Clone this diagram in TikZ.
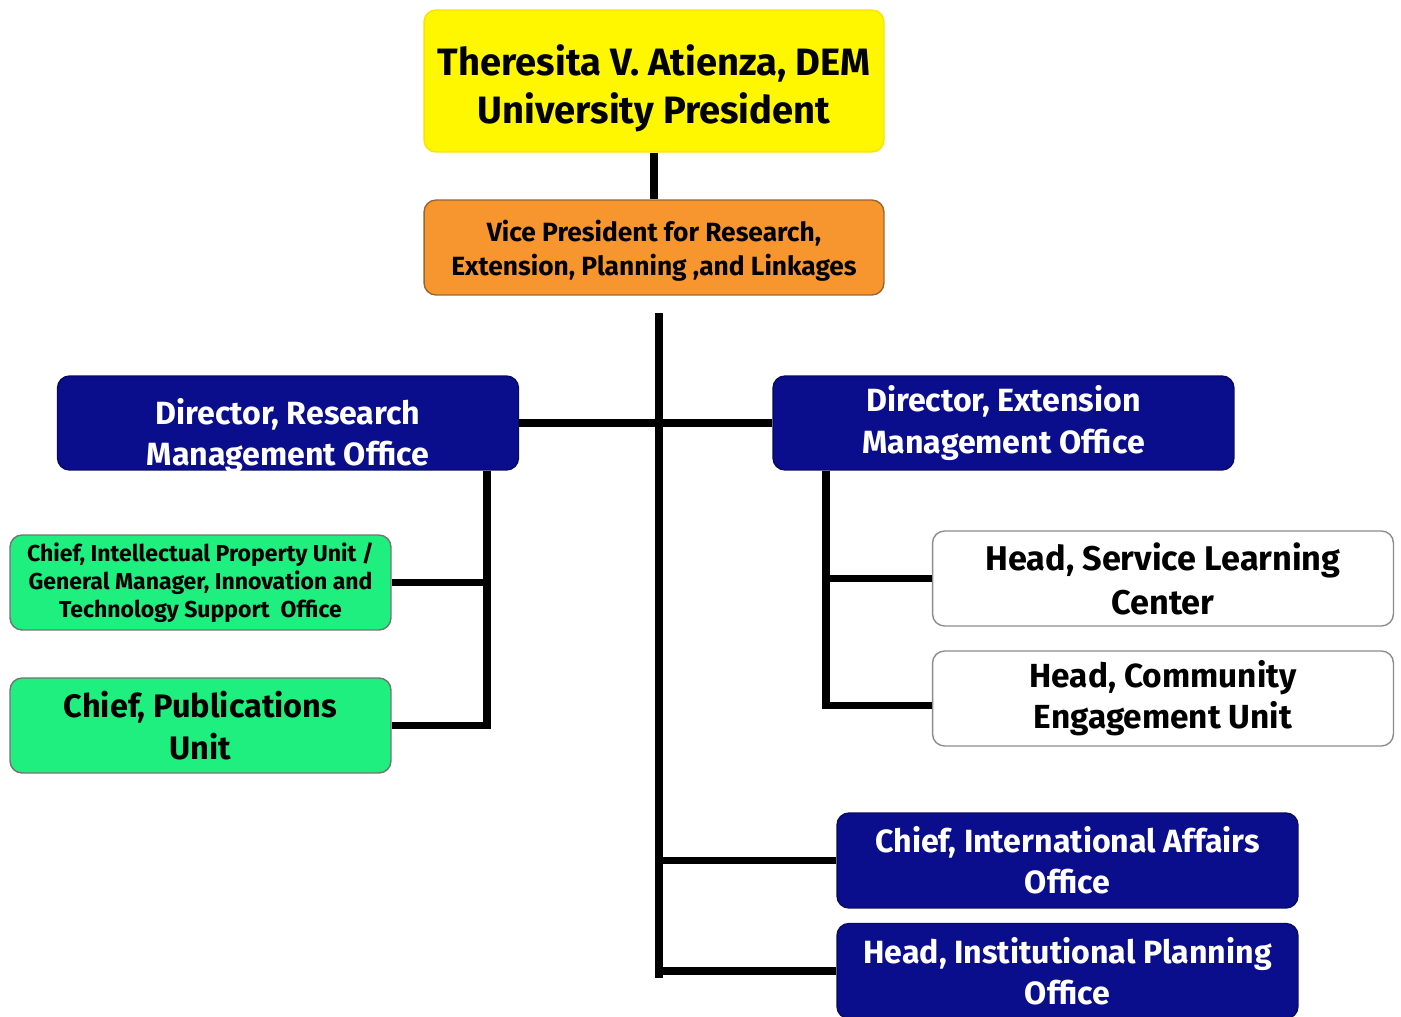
\documentclass[tikz,border=0pt]{standalone}
\usepackage{fontspec}
\setmainfont{Fira Sans}
\usetikzlibrary{calc}
\definecolor{presyellow}{HTML}{FFF700}
\definecolor{vporange}{HTML}{F7962E}
\definecolor{officeblue}{HTML}{0B0E8C}
\definecolor{unitgreen}{HTML}{1FEF7E}
\tikzset{
  box/.style={rectangle, rounded corners=0.24cm, align=center, inner sep=0pt, font=\bfseries},
  bigbox/.style={box, minimum width=9.22cm, minimum height=1.9cm},
  smallbox/.style={box, minimum width=7.62cm, minimum height=1.9cm, fill=unitgreen, draw=black!55, line width=0.8pt},
  bluebox/.style={bigbox, fill=officeblue, draw=officeblue!70!black, text=white, line width=0.8pt},
  whitebox/.style={bigbox, fill=white, draw=black!45, line width=0.8pt},
  link/.style={line width=4.5pt, black},
  midsize/.style={font=\bfseries\fontsize{18.3}{23.5}\selectfont},
  boxtext/.style={align=center, inner sep=0pt, yshift=#1}
}
\begin{document}
\begin{tikzpicture}[x=0.02cm, y=-0.02cm]
\clip (0,0) rectangle (1401,1017);
\fill[white] (0,0) rectangle (1401,1017);
% top of the chart
\node[box, minimum width=9.2cm, minimum height=2.84cm, fill=presyellow, draw=presyellow!80!orange, line width=0.8pt,
  label={[boxtext=-0.15cm, font=\bfseries\fontsize{21.7}{27.5}\selectfont]center:{Theresita V. Atienza, DEM\\University President}}] (pres) at (654,81) {};
\node[box, minimum width=9.2cm, minimum height=1.9cm, fill=vporange, draw=brown!80!black, line width=0.8pt,
  label={[boxtext=-0.06cm, font=\bfseries\fontsize{15}{19.5}\selectfont]center:{Vice President for Research,\\Extension, Planning ,and Linkages}}] (vp) at (654,247.5) {};
% directors
\node[bluebox, minimum height=1.88cm,
  label={[boxtext=-0.25cm, midsize, text=white]center:{Director, Research\\Management Office}}] (drmo) at (288,423) {};
\node[bluebox, minimum height=1.88cm, midsize] (demo) at (1003.5,423) {Director, Extension\\Management Office};
% research units
\node[smallbox, font=\bfseries\fontsize{13.1}{16}\selectfont] (ipu) at (200.5,582.5) {Chief, Intellectual Property Unit /\\General Manager, Innovation and\\Technology Support\ \ Office};
\node[smallbox, font=\bfseries\fontsize{18.5}{24}\selectfont] (pub) at (200.5,725.5) {Chief, Publications\\Unit};
% extension units
\node[whitebox, font=\bfseries\fontsize{19.5}{25}\selectfont] (slc) at (1163,578.5) {Head, Service Learning\\Center};
\node[whitebox, font=\bfseries\fontsize{19}{23.5}\selectfont] (ceu) at (1163,698.5) {Head, Community\\Engagement Unit};
% other offices
\node[bluebox, midsize] (iao) at (1067.5,860.5) {Chief, International Affairs\\Office};
\node[bluebox, midsize] (ipo) at (1067.5,971) {Head, Institutional Planning\\Office};
% connectors
\coordinate (trunktop) at (659,313);
\coordinate (trunkbot) at (659,978);
\coordinate (lbus) at (487,0);
\coordinate (rbus) at (826,0);
\draw[link] (pres.south) -- (vp.north);
\draw[link] (trunktop) -- (trunkbot);
\draw[link] (drmo.east) -- (demo.west);
\draw[link] (drmo.south -| lbus) |- (pub.east);
\draw[link] (ipu.east) -- (ipu.east -| lbus);
\draw[link] (demo.south -| rbus) |- ($(ceu.west)+(0,7)$);
\draw[link] (slc.west -| rbus) -- (slc.west);
\draw[link] (iao.west -| trunktop) -- (iao.west);
\draw[link] (ipo.west -| trunktop) -- (ipo.west);
\end{tikzpicture}
\end{document}
